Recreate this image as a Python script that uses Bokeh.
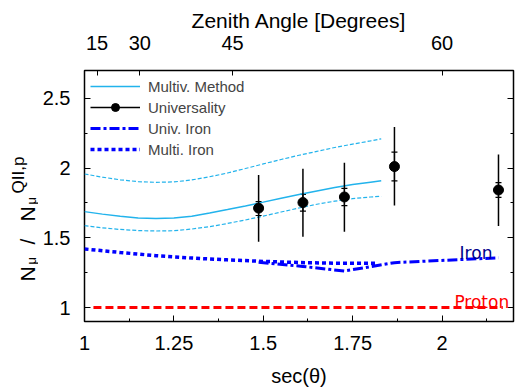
import math
from bokeh.plotting import figure
from bokeh.layouts import row
from bokeh.models import (LinearAxis, FixedTicker, CustomJSTickFormatter, Whisker,
                          ColumnDataSource, Legend, LegendItem, Label, TeeHead)
from bokeh.embed import file_html
from bokeh.resources import INLINE

# ---------------- data ----------------
# Universality measurement points
univ_sec = [1.487, 1.611, 1.727, 1.867, 2.158]
univ_ratio = [1.713, 1.753, 1.793, 2.011, 1.843]
univ_tot_lo = [1.472, 1.507, 1.543, 1.731, 1.585]
univ_tot_hi = [1.950, 1.996, 2.039, 2.294, 2.098]
univ_stat_lo = [1.660, 1.692, 1.731, 1.909, 1.790]
univ_stat_hi = [1.760, 1.812, 1.855, 2.114, 1.896]

# Multivariate method (central curve and band)
multiv_sec = [1.0, 1.05, 1.1, 1.15, 1.2, 1.25, 1.3, 1.35, 1.4, 1.45, 1.5, 1.55,
              1.6, 1.65, 1.7, 1.75, 1.8, 1.83]
multiv_ratio = [1.688, 1.670, 1.655, 1.643, 1.639, 1.642, 1.655, 1.678, 1.703, 1.729,
                1.756, 1.784, 1.810, 1.836, 1.861, 1.882, 1.899, 1.909]
multiv_upper = [1.958, 1.935, 1.916, 1.903, 1.898, 1.901, 1.915, 1.938, 1.965, 1.997,
                2.030, 2.062, 2.092, 2.120, 2.148, 2.172, 2.195, 2.210]
multiv_lower = [1.588, 1.572, 1.560, 1.552, 1.549, 1.551, 1.563, 1.580, 1.603, 1.628,
                1.656, 1.685, 1.714, 1.741, 1.763, 1.781, 1.793, 1.798]

# Iron expectations
multi_iron_sec = [1.0, 1.1, 1.2, 1.3, 1.4, 1.5, 1.6, 1.7, 1.82]
multi_iron_ratio = [1.420, 1.395, 1.372, 1.355, 1.342, 1.331, 1.323, 1.318, 1.318]
univ_iron_sec = [1.487, 1.611, 1.727, 1.867, 2.158]
univ_iron_ratio = [1.325, 1.295, 1.262, 1.322, 1.357]

# Proton reference
proton_sec = [1.025, 2.17]
proton_ratio = [1.0, 1.0]

# Axes ticks
x_major_ticks = [1.0, 1.25, 1.5, 1.75, 2.0]
x_minor_ticks = [1.125, 1.375, 1.625, 1.875, 2.125]
y_major_ticks = [1.0, 1.5, 2.0, 2.5]
y_minor_ticks = [1.25, 1.75, 2.25]
zenith_deg = [15, 30, 45, 60]
zenith_labels = ["15", "30", "45", "60"]

# ---------------- styling ----------------
FONT = "Liberation Sans"
CYAN = "#22b3ec"
BLUE = "#0000ff"
RED = "#ff0000"
LABEL_W = 38  # width of the strip holding the rotated y-axis title

p = figure(width=515 - LABEL_W, height=389, x_range=(1.0, 2.2), y_range=(0.9, 2.7),
           output_backend="svg", toolbar_location=None,
           min_border_left=84 - LABEL_W, min_border_right=2, min_border_top=70, min_border_bottom=65)
p.xgrid.visible = False
p.ygrid.visible = False
p.outline_line_color = "black"
p.outline_line_width = 1.5
p.background_fill_color = "white"
p.border_fill_color = "white"

def style_axis(ax, size="20px"):
    ax.axis_line_color = None
    ax.major_tick_in = 6
    ax.major_tick_out = 0
    ax.minor_tick_in = 3
    ax.minor_tick_out = 0
    ax.major_tick_line_color = "black"
    ax.minor_tick_line_color = "black"
    ax.major_label_text_font = FONT
    ax.major_label_text_font_size = size
    ax.major_label_text_color = "black"
    ax.axis_label_text_font = FONT
    ax.axis_label_text_font_size = "20px"
    ax.axis_label_text_font_style = "normal"
    ax.axis_label_text_color = "black"

fmt = CustomJSTickFormatter(code="return String(Math.round(tick*1000)/1000);")

xax = p.xaxis[0]
style_axis(xax)
xax.ticker = FixedTicker(ticks=x_major_ticks, minor_ticks=x_minor_ticks)
xax.formatter = fmt
xax.axis_label = "sec(θ)"
xax.major_label_standoff = 14
xax.axis_label_standoff = 12

yax = p.yaxis[0]
style_axis(yax)
yax.ticker = FixedTicker(ticks=y_major_ticks, minor_ticks=y_minor_ticks)
yax.formatter = fmt
yax.major_label_standoff = 14

# right mirrored ticks (no labels)
rax = LinearAxis(ticker=FixedTicker(ticks=y_major_ticks, minor_ticks=y_minor_ticks),
                 formatter=CustomJSTickFormatter(code="return '';"))
style_axis(rax)
rax.major_label_standoff = 0
p.add_layout(rax, "right")

# top zenith axis
zenith_ticks = [1.0 / math.cos(math.radians(a)) for a in zenith_deg]
tax = LinearAxis(ticker=FixedTicker(ticks=zenith_ticks, minor_ticks=[]),
                 formatter=CustomJSTickFormatter(args=dict(pos=zenith_ticks, labels=zenith_labels),
                     code="for (let i = 0; i < pos.length; i++) { if (Math.abs(pos[i]-tick) < 1e-6) return labels[i]; } return '';"))
style_axis(tax)
tax.major_tick_in = 5
tax.axis_label = "Zenith Angle [Degrees]"
tax.axis_label_text_font_size = "21px"
tax.major_label_standoff = 21
tax.axis_label_standoff = 1
p.add_layout(tax, "above")

# ---------------- glyphs ----------------
r_proton = p.line(proton_sec, proton_ratio, line_color=RED, line_width=3, line_dash="8 4")
r_mi = p.line(multi_iron_sec, multi_iron_ratio, line_color=BLUE, line_width=3.5, line_dash="4 3")
r_ui = p.line(univ_iron_sec, univ_iron_ratio, line_color=BLUE, line_width=3, line_dash="10 3 3 3")

r_mv = p.line(multiv_sec, multiv_ratio, line_color=CYAN, line_width=1.5)
p.line(multiv_sec, multiv_upper, line_color=CYAN, line_width=1.2, line_dash="4 2")
p.line(multiv_sec, multiv_lower, line_color=CYAN, line_width=1.2, line_dash="4 2")

src = ColumnDataSource(dict(x=univ_sec, y=univ_ratio, tlo=univ_tot_lo, thi=univ_tot_hi,
                            slo=univ_stat_lo, shi=univ_stat_hi))
r_seg = p.segment(x0="x", y0="tlo", x1="x", y1="thi", source=src, line_color="black", line_width=1.5)
p.add_layout(Whisker(base="x", upper="shi", lower="slo", source=src, dimension="height",
                     line_color="black", line_width=1.2,
                     upper_head=TeeHead(size=6, line_width=1.2, line_color="black"),
                     lower_head=TeeHead(size=6, line_width=1.2, line_color="black")))
r_pts = p.scatter(x="x", y="y", source=src, size=10, marker="circle", fill_color="black", line_color="black")

# labels
p.add_layout(Label(x=2.141, y=1.389, text="Iron", text_align="right", text_baseline="alphabetic",
                   text_font="DejaVu Sans", text_font_size="17px", text_color="#00008b"))
p.add_layout(Label(x=2.188, y=1.042, text="Proton", text_align="right", text_baseline="alphabetic",
                   text_font="DejaVu Sans", text_font_size="17px", text_color=RED))

legend = Legend(items=[
    LegendItem(label="Multiv. Method", renderers=[r_mv]),
    LegendItem(label="Universality", renderers=[r_seg, r_pts]),
    LegendItem(label="Univ. Iron", renderers=[r_ui]),
    LegendItem(label="Multi. Iron", renderers=[r_mi]),
], location="top_left")
legend.label_text_font = FONT
legend.label_text_font_size = "15px"
legend.glyph_width = 50
legend.glyph_height = 20
legend.label_height = 20
legend.spacing = 1
legend.margin = 6
legend.padding = 4
legend.label_standoff = 8
legend.background_fill_alpha = 0
legend.border_line_color = None
p.add_layout(legend)

# ---------------- y-axis title strip: N_mu / N_mu^{QII,p} ----------------
lab = figure(width=LABEL_W, height=389, x_range=(0, 1), y_range=(0, 1),
             output_backend="svg", toolbar_location=None, min_border=0)
lab.axis.visible = False
lab.xgrid.visible = False
lab.ygrid.visible = False
lab.outline_line_color = None
lab.background_fill_color = "white"
lab.border_fill_color = "white"

# (text, screen x of baseline, screen y of start measured up from the frame bottom, size)
ypieces = [
    ("N", 27.3, 40, "21px"),
    ("μ", 31.0, 57, "13px"),
    ("/", 27.3, 77, "21px"),
    ("N", 27.3, 100, "21px"),
    ("μ", 31.0, 117, "13px"),
    ("QII,p", 17.5, 128, "17px"),
]
for t, sx, sy, fs in ypieces:
    lab.add_layout(Label(x=sx, y=sy, x_units="screen", y_units="screen", text=t,
                         angle=math.pi / 2, text_align="left", text_baseline="alphabetic",
                         text_font=FONT, text_font_size=fs, text_color="black"))

layout = row(lab, p, spacing=0)
open("out.html", "w").write(file_html(layout, INLINE))
